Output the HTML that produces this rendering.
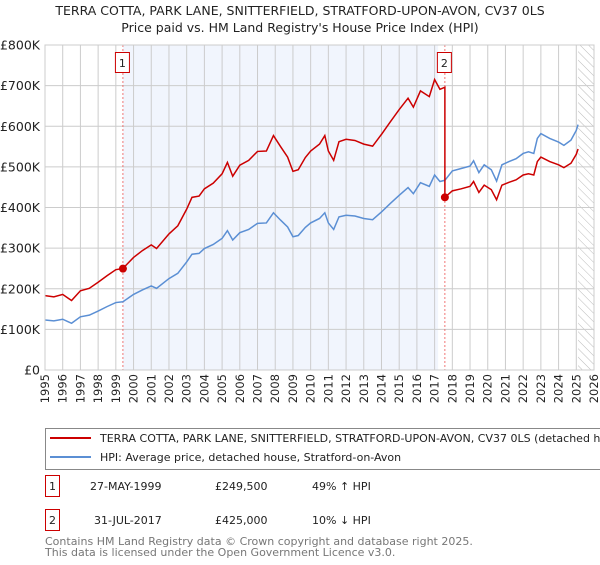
<!DOCTYPE html>
<html><head><meta charset="utf-8"><style>
body{margin:0;background:#fff;font-family:"Liberation Sans","DejaVu Sans",sans-serif;}
svg text{font-family:"DejaVu Sans","Liberation Sans",sans-serif;}
</style></head><body>
<svg id="chart" width="600" height="560" xmlns="http://www.w3.org/2000/svg">
<defs><pattern id="hatch" width="6" height="6" patternUnits="userSpaceOnUse" patternTransform="rotate(-45)"><line x1="0" y1="0" x2="0" y2="6" stroke="#bbb" stroke-width="1"/></pattern></defs>
<text x="300" y="15" font-size="12.5" text-anchor="middle" fill="#222">TERRA COTTA, PARK LANE, SNITTERFIELD, STRATFORD-UPON-AVON, CV37 0LS</text>
<text x="300" y="32" font-size="12.5" text-anchor="middle" fill="#222">Price paid vs. HM Land Registry's House Price Index (HPI)</text>
<g id="plot"></g>
<g>
<rect x="45.5" y="428.5" width="570" height="41" fill="#fff" stroke="#888"/>
<line x1="50" y1="438" x2="91" y2="438" stroke="#cc0000" stroke-width="2"/>
<text x="100" y="442" font-size="11" fill="#222">TERRA COTTA, PARK LANE, SNITTERFIELD, STRATFORD-UPON-AVON, CV37 0LS (detached house)</text>
<line x1="50" y1="457" x2="91" y2="457" stroke="#5b8fd4" stroke-width="2"/>
<text x="100" y="461" font-size="11" fill="#222">HPI: Average price, detached house, Stratford-on-Avon</text>
</g>
<g>
<rect x="45.5" y="475.5" width="14" height="21" fill="#fff" stroke="#cc0000"/>
<text x="52.5" y="490" font-size="11" text-anchor="middle" fill="#222">1</text>
<text x="90" y="490" font-size="11" fill="#222">27-MAY-1999</text>
<text x="215" y="490" font-size="11" fill="#222">£249,500</text>
<text x="312" y="490" font-size="11" fill="#222">49% ↑ HPI</text>
<rect x="45.5" y="509.5" width="14" height="21" fill="#fff" stroke="#cc0000"/>
<text x="52.5" y="524" font-size="11" text-anchor="middle" fill="#222">2</text>
<text x="94" y="524" font-size="11" fill="#222">31-JUL-2017</text>
<text x="215" y="524" font-size="11" fill="#222">£425,000</text>
<text x="312" y="524" font-size="11" fill="#222">10% ↓ HPI</text>
</g>
<text x="45" y="545" font-size="11" fill="#777">Contains HM Land Registry data © Crown copyright and database right 2025.</text>
<text x="45" y="556" font-size="11" fill="#777">This data is licensed under the Open Government Licence v3.0.</text>
</svg>
<script>
const yTicks=[0,100,200,300,400,500,600,700,800];
const yTickLabels=["£0","£100K","£200K","£300K","£400K","£500K","£600K","£700K","£800K"];
const xYears=[1995,1996,1997,1998,1999,2000,2001,2002,2003,2004,2005,2006,2007,2008,2009,2010,2011,2012,2013,2014,2015,2016,2017,2018,2019,2020,2021,2022,2023,2024,2025,2026];
const hpiYears=[1995.0,1995.5,1996.0,1996.3,1996.5,1997.0,1997.5,1998.0,1998.5,1999.0,1999.4,2000.0,2000.5,2001.0,2001.3,2002.0,2002.5,2003.0,2003.3,2003.7,2004.0,2004.5,2005.0,2005.3,2005.6,2006.0,2006.5,2007.0,2007.5,2007.9,2008.3,2008.7,2009.0,2009.3,2009.7,2010.0,2010.5,2010.8,2011.0,2011.3,2011.6,2012.0,2012.5,2013.0,2013.5,2014.0,2014.5,2015.0,2015.5,2015.8,2016.2,2016.7,2017.0,2017.3,2017.58,2018.0,2018.5,2019.0,2019.2,2019.5,2019.8,2020.2,2020.5,2020.8,2021.2,2021.6,2022.0,2022.3,2022.6,2022.8,2023.0,2023.5,2024.0,2024.3,2024.7,2025.0,2025.1];
const hpiValues=[123,121,125,119,115,131,135,145,156,166,168,186,197,207,201,225,238,266,285,287,299,309,324,343,320,338,346,361,362,387,369,352,328,331,351,362,373,387,362,346,377,381,379,373,370,389,410,430,449,434,461,452,480,464,467,490,496,502,515,486,505,493,465,505,513,520,533,537,533,570,582,570,561,553,566,590,604];
const priceYears=[1995.0,1995.5,1996.0,1996.3,1996.5,1997.0,1997.5,1998.0,1998.5,1999.0,1999.4,2000.0,2000.5,2001.0,2001.3,2002.0,2002.5,2003.0,2003.3,2003.7,2004.0,2004.5,2005.0,2005.3,2005.6,2006.0,2006.5,2007.0,2007.5,2007.9,2008.3,2008.7,2009.0,2009.3,2009.7,2010.0,2010.5,2010.8,2011.0,2011.3,2011.6,2012.0,2012.5,2013.0,2013.5,2014.0,2014.5,2015.0,2015.5,2015.8,2016.2,2016.7,2017.0,2017.3,2017.58,2017.58,2018.0,2018.5,2019.0,2019.2,2019.5,2019.8,2020.2,2020.5,2020.8,2021.2,2021.6,2022.0,2022.3,2022.6,2022.8,2023.0,2023.5,2024.0,2024.3,2024.7,2025.0,2025.1];
const priceValues=[183,180,186,177,171,195,201,216,232,247,250,277,294,308,299,335,355,396,425,428,446,460,483,511,477,504,516,538,539,577,550,524,489,493,523,539,556,577,539,516,562,568,565,556,551,580,611,641,669,647,687,673,715,691,696,425,441,446,452,464,437,455,444,419,455,462,468,480,483,480,513,524,513,505,498,509,531,544];
const saleYears=[1999.4,2017.58];
const saleValues=[249.5,425];
const saleLabels=["1","2"];

const X0=45,X1=594,Y0=370,Y1=45;
const xs=y=>X0+(y-1995)/(2026-1995)*(X1-X0);
const ys=v=>Y0-v/800*(Y0-Y1);
const NS="http://www.w3.org/2000/svg";
const g=document.getElementById('plot');
function mk(t,a){const e=document.createElementNS(NS,t);for(const k in a)e.setAttribute(k,a[k]);g.appendChild(e);return e;}
let e;
e=mk('rect',{x:xs(saleYears[0]),y:Y1,width:xs(2017.2)-xs(saleYears[0]),height:Y0-Y1,fill:'#eef3fc',opacity:0.8});


e=mk('rect',{x:xs(2025.1),y:Y1,width:X1-xs(2025.1),height:Y0-Y1,fill:'url(#hatch)'});


xYears.forEach(yr=>{e=mk('line',{x1:xs(yr),x2:xs(yr),y1:Y1,y2:Y0,stroke:'#ccc','stroke-width':1});


const tx=xs(yr)+4;e=mk('text',{x:0,y:0,'font-size':11.5,'text-anchor':'end',fill:'#222',transform:`translate(${tx},374) rotate(-90)`});e.textContent=yr;

});
yTicks.forEach((v,i)=>{e=mk('line',{x1:X0,x2:X1,y1:ys(v),y2:ys(v),stroke:'#ccc','stroke-width':1});


e=mk('text',{x:40,y:ys(v)+4.5,'font-size':12.5,'text-anchor':'end',fill:'#222'});e.textContent=yTickLabels[i];

});
saleYears.forEach((yr,i)=>{e=mk('line',{x1:xs(yr),x2:xs(yr),y1:Y1,y2:Y0,stroke:'#e55','stroke-width':0.8,'stroke-dasharray':'2,2'});

});
e=mk('polyline',{points:hpiYears.map((y,i)=>xs(y)+','+ys(hpiValues[i])).join(' '),fill:'none',stroke:'#5b8fd4','stroke-width':1.5});


e=mk('polyline',{points:priceYears.map((y,i)=>xs(y)+','+ys(priceValues[i])).join(' '),fill:'none',stroke:'#cc0000','stroke-width':1.5});


saleYears.forEach((yr,i)=>{e=mk('circle',{cx:xs(yr),cy:ys(saleValues[i]),r:4,fill:'#cc0000'});


e=mk('rect',{x:xs(yr)-7.5,y:52.5,width:14,height:20,fill:'#fff',stroke:'#cc0000'});


e=mk('text',{x:xs(yr)-0.5,y:67,'font-size':11,'text-anchor':'middle',fill:'#222'});e.textContent=saleLabels[i];

});
e=mk('rect',{x:X0,y:Y1,width:X1-X0,height:Y0-Y1,fill:'none',stroke:'#ccc'});


</script>
</body></html>
